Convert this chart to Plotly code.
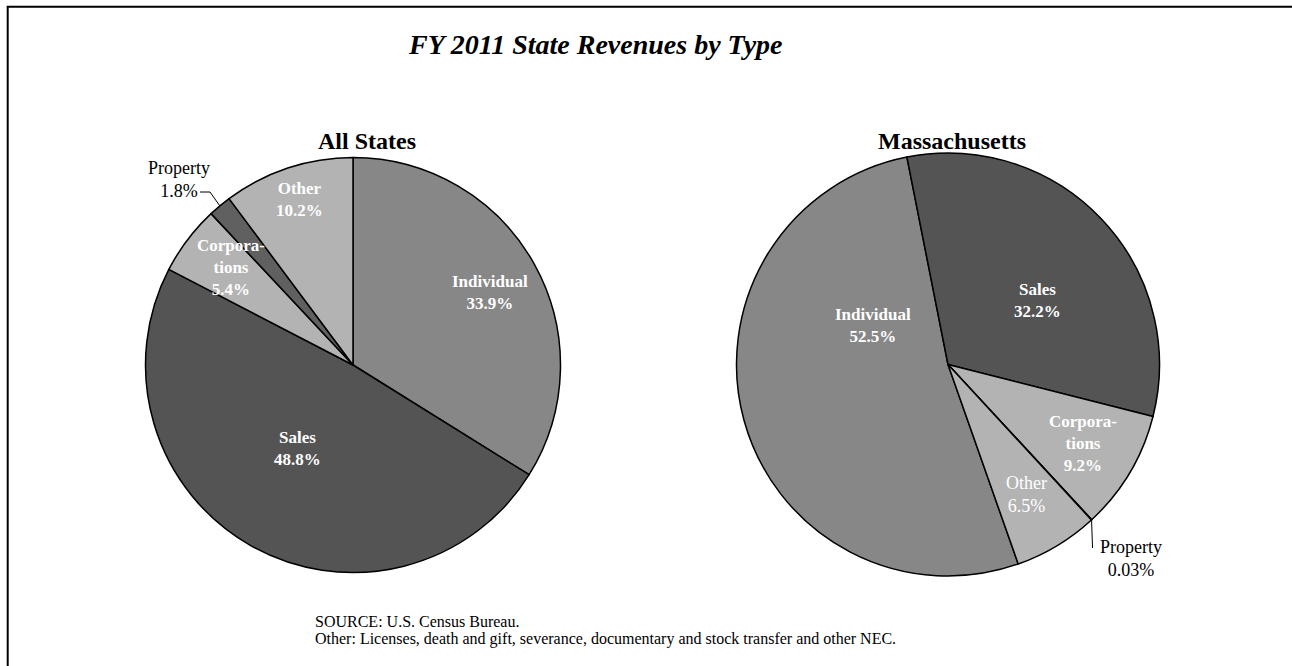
import math
import plotly.graph_objects as go

# ---- data -------------------------------------------------------------
categories = ["Individual", "Sales", "Corporations", "Property", "Other"]
all_states = [33.9, 48.8, 5.4, 1.8, 10.2]
massachusetts = [52.5, 32.2, 9.2, 0.03, 6.5]

colors = ["#878787", "#545454", "#b3b3b3", "#606060", "#b3b3b3"]

W, H = 1292, 666
SERIF = "Liberation Serif"


def px(x):
    return x / W


def py(y):
    return 1 - y / H


# pie geometry in pixels: centre x, centre y, radius
LEFT = (353, 365, 207.5)
RIGHT = (948, 364.5, 211.5)


def domain(c):
    cx, cy, r = c
    return dict(x=[px(cx - r), px(cx + r)], y=[py(cy + r), py(cy - r)])


# Massachusetts: Sales edge sits a little left of 12 o'clock
ma_total = sum(massachusetts)
ma_rotation = -11.2 - 360 * massachusetts[0] / ma_total

fig = go.Figure()
for vals, geo, rot in [(all_states, LEFT, 0), (massachusetts, RIGHT, ma_rotation)]:
    fig.add_trace(go.Pie(
        labels=categories,
        values=vals,
        sort=False,
        direction="clockwise",
        rotation=rot,
        domain=domain(geo),
        marker=dict(colors=colors, line=dict(color="black", width=1.5)),
        textinfo="none",
        hoverinfo="label+value",
        showlegend=False,
    ))


def mid_angle(vals, idx, rot):
    tot = sum(vals)
    start = rot + 360 * sum(vals[:idx]) / tot
    return start + 180 * vals[idx] / tot


def edge_point(geo, ang):
    cx, cy, r = geo
    a = math.radians(ang)
    return cx + r * math.sin(a), cy - r * math.cos(a)


def label_text(name, v):
    shown = "Corpora-<br>tions" if name == "Corporations" else name
    return f"{shown}<br>{v:g}%"


annotations = []

# slice labels: (pie values, category index, x, y, bold, colour)
label_specs = [
    (all_states, 0, 490, 292, True, "white"),
    (all_states, 1, 297, 448, True, "white"),
    (all_states, 2, 231, 267, True, "white"),
    (all_states, 3, 179, 179, False, "black"),
    (all_states, 4, 299, 199, True, "white"),
    (massachusetts, 0, 873, 325, True, "white"),
    (massachusetts, 1, 1037, 300, True, "white"),
    (massachusetts, 2, 1083, 443, True, "white"),
    (massachusetts, 3, 1131, 558, False, "black"),
    (massachusetts, 4, 1026, 494, False, "white"),
]
for vals, i, x, y, bold, col in label_specs:
    txt = label_text(categories[i], vals[i])
    if bold:
        txt = f"<b>{txt}</b>"
    annotations.append(dict(
        x=px(x), y=py(y), xref="paper", yref="paper", text=txt,
        showarrow=False, xanchor="center", yanchor="middle", align="center",
        font=dict(family=SERIF, size=17 if bold else 18, color=col),
    ))

# chart title and pie headings
annotations += [
    dict(x=px(595), y=py(45), xref="paper", yref="paper",
         text="<b><i>FY 2011 State Revenues by Type</i></b>", showarrow=False,
         xanchor="center", yanchor="middle",
         font=dict(family=SERIF, size=28, color="black")),
    dict(x=px(367), y=py(141), xref="paper", yref="paper",
         text="<b>All States</b>", showarrow=False,
         xanchor="center", yanchor="middle",
         font=dict(family=SERIF, size=24, color="black")),
    dict(x=px(952), y=py(141), xref="paper", yref="paper",
         text="<b>Massachusetts</b>", showarrow=False,
         xanchor="center", yanchor="middle",
         font=dict(family=SERIF, size=24, color="black")),
    dict(x=px(313), y=py(621), xref="paper", yref="paper",
         text="SOURCE: U.S. Census Bureau.", showarrow=False,
         xanchor="left", yanchor="middle",
         font=dict(family=SERIF, size=16, color="black")),
    dict(x=px(313), y=py(639), xref="paper", yref="paper",
         text="Other: Licenses, death and gift, severance, documentary and "
              "stock transfer and other NEC.", showarrow=False,
         xanchor="left", yanchor="middle",
         font=dict(family=SERIF, size=16, color="black")),
]

# leader lines for the thin Property slices
lx0, ly0 = edge_point(LEFT, mid_angle(all_states, 3, 0))
rx0, ry0 = edge_point(RIGHT, mid_angle(massachusetts, 3, ma_rotation))
line_style = dict(color="black", width=1)
shapes = [
    dict(type="path", xref="paper", yref="paper",
         path=f"M {px(lx0)},{py(ly0)} L {px(210)},{py(192)} L {px(200)},{py(192)}",
         line=line_style),
    dict(type="path", xref="paper", yref="paper",
         path=f"M {px(rx0)},{py(ry0)} L {px(rx0 + 1)},{py(548)}",
         line=line_style),
    # outer frame
    dict(type="rect", xref="paper", yref="paper",
         x0=px(7.7), y0=py(H + 20), x1=px(W + 20), y1=py(6.7),
         line=dict(color="black", width=2)),
]

fig.update_layout(
    width=W, height=H,
    margin=dict(l=0, r=0, t=0, b=0),
    paper_bgcolor="white", plot_bgcolor="white",
    annotations=annotations,
    shapes=shapes,
)

fig.write_html("out.html")
